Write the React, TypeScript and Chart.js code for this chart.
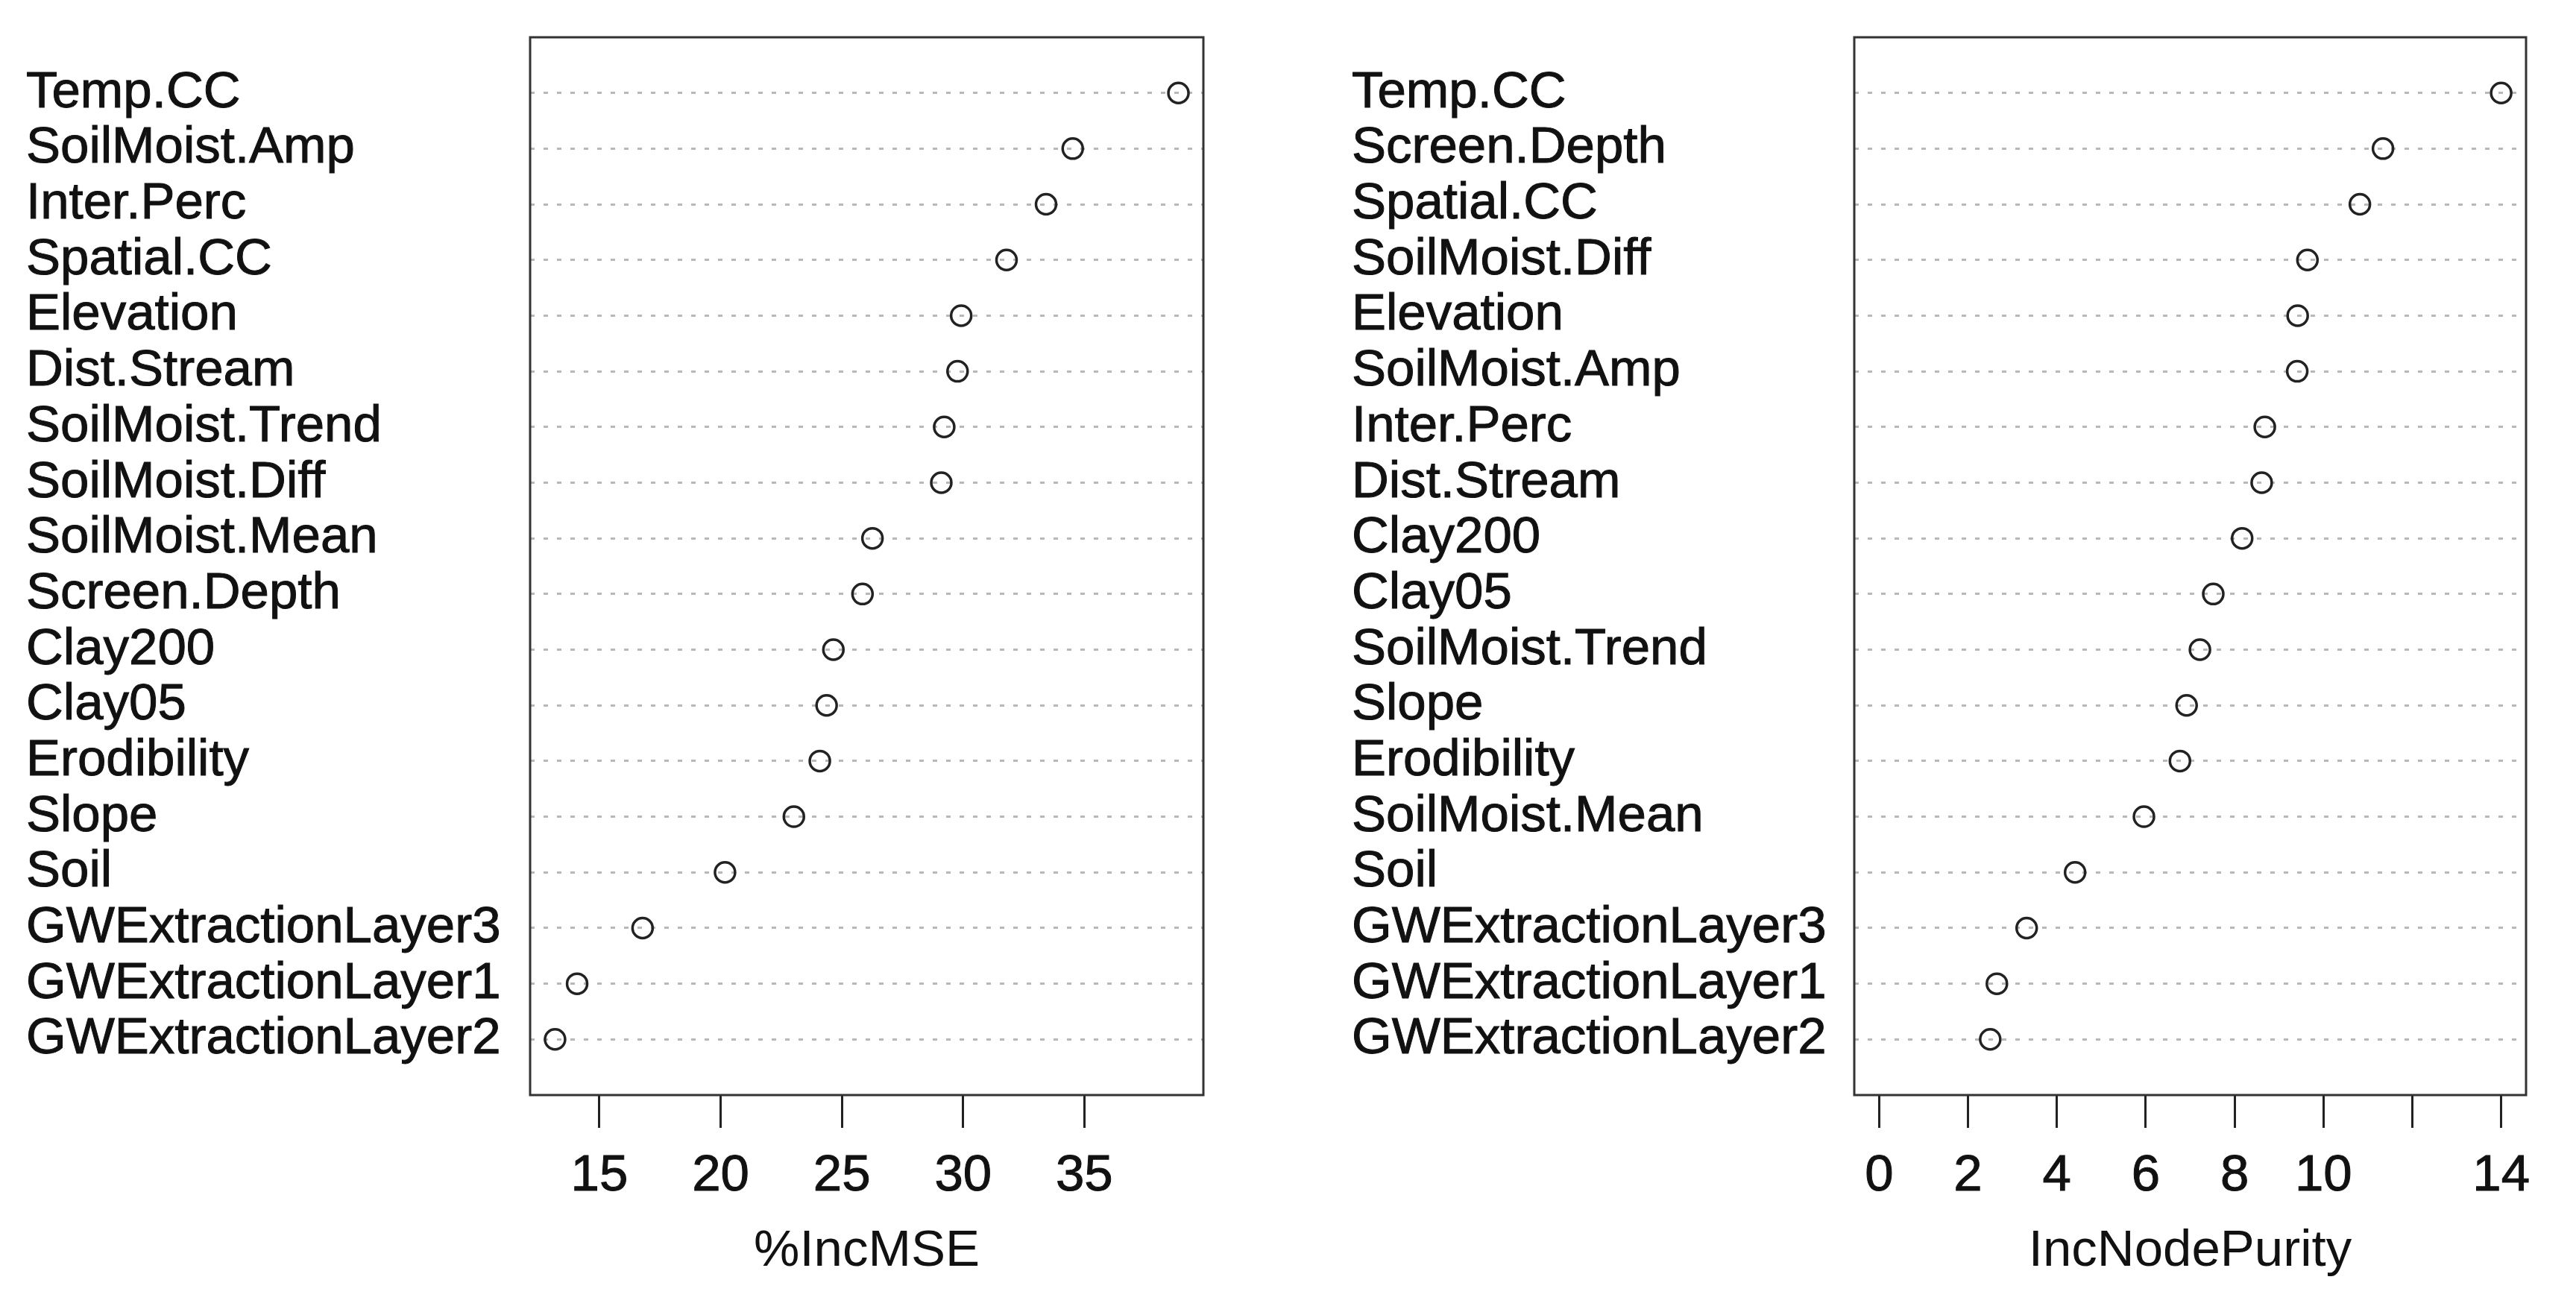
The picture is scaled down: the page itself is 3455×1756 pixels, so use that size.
import React, { useEffect, useRef } from "react";
import { Chart, registerables } from "chart.js";

Chart.register(...registerables);

// ---- Data ----
const mseLabels = [
  "Temp.CC", "SoilMoist.Amp", "Inter.Perc", "Spatial.CC", "Elevation", "Dist.Stream",
  "SoilMoist.Trend", "SoilMoist.Diff", "SoilMoist.Mean", "Screen.Depth", "Clay200", "Clay05",
  "Erodibility", "Slope", "Soil", "GWExtractionLayer3", "GWExtractionLayer1", "GWExtractionLayer2",
];
const mseValues = [
  38.88, 34.52, 33.42, 31.79, 29.92, 29.77, 29.22, 29.1, 26.26, 25.85, 24.65, 24.37,
  24.09, 23.02, 20.18, 16.78, 14.08, 13.17,
];
const mseTicks = [15, 20, 25, 30, 35];
const mseTickLabels = ["15", "20", "25", "30", "35"];
const mseTitle = "%IncMSE";

const purityLabels = [
  "Temp.CC", "Screen.Depth", "Spatial.CC", "SoilMoist.Diff", "Elevation", "SoilMoist.Amp",
  "Inter.Perc", "Dist.Stream", "Clay200", "Clay05", "SoilMoist.Trend", "Slope",
  "Erodibility", "SoilMoist.Mean", "Soil", "GWExtractionLayer3", "GWExtractionLayer1", "GWExtractionLayer2",
];
const purityValues = [
  14.0, 11.34, 10.82, 9.64, 9.42, 9.41, 8.68, 8.61, 8.17, 7.52, 7.22, 6.92,
  6.77, 5.96, 4.41, 3.32, 2.65, 2.5,
];
const purityTicks = [0, 2, 4, 6, 8, 10, 12, 14];
const purityTickLabels = ["0", "2", "4", "6", "8", "10", "", "14"];
const purityTitle = "IncNodePurity";

const FONT = "'Liberation Sans', Arial, sans-serif";
const FS = 69;
const H = 1756;

type PanelProps = {
  labels: string[];
  values: number[];
  ticks: number[];
  tickLabels: string[];
  title: string;
  xMin: number;
  xMax: number;
  left: number;
  width: number;
  padLeft: number;
  padRight: number;
  yAxisWidth: number;
};

function Panel(p: PanelProps) {
  const ref = useRef<HTMLCanvasElement>(null);
  useEffect(() => {
    if (!ref.current) return;
    const n = p.labels.length;
    const boxPlugin = {
      id: "rbox",
      afterDraw(chart: any) {
        const { ctx, chartArea: a } = chart;
        ctx.save();
        ctx.strokeStyle = "#333";
        ctx.lineWidth = 3;
        ctx.setLineDash([]);
        ctx.strokeRect(a.left, a.top, a.right - a.left, a.bottom - a.top);
        ctx.restore();
      },
    };
    const chart = new Chart(ref.current, {
      type: "scatter",
      data: {
        datasets: [
          {
            data: p.values.map((v, i) => ({ x: v, y: i + 1 })),
            pointStyle: "circle",
            pointRadius: 13.5,
            pointHoverRadius: 13.5,
            pointBorderWidth: 3.5,
            pointBorderColor: "#222",
            pointBackgroundColor: "rgba(0,0,0,0)",
          },
        ],
      },
      options: {
        animation: false,
        responsive: false,
        devicePixelRatio: 1,
        events: [],
        layout: { padding: { left: p.padLeft, right: p.padRight, top: 50, bottom: 0 } },
        plugins: { legend: { display: false }, tooltip: { enabled: false } },
        scales: {
          x: {
            type: "linear",
            position: "bottom",
            bounds: "data",
            min: p.xMin,
            max: p.xMax,
            afterBuildTicks: (s: any) => {
              s.ticks = p.ticks.map((v) => ({ value: v }));
            },
            afterFit: (s: any) => {
              s.height = H - 1469;
            },
            grid: {
              display: true,
              drawOnChartArea: false,
              drawTicks: true,
              tickLength: 44,
              tickColor: "#222",
              tickWidth: 3,
            },
            border: { display: false },
            ticks: {
              autoSkip: false,
              maxRotation: 0,
              minRotation: 0,
              padding: 24,
              color: "#111",
              textStrokeColor: "#111",
              textStrokeWidth: 1,
              font: { family: FONT, size: FS },
              callback: (v: any) => {
                const i = p.ticks.indexOf(Number(v));
                return i >= 0 ? p.tickLabels[i] : "";
              },
            },
            title: {
              display: true,
              text: p.title,
              color: "#111",
              font: { family: FONT, size: FS },
              padding: { top: 0, bottom: 36 },
            },
          },
          y: {
            type: "linear",
            position: "left",
            reverse: true,
            bounds: "data",
            min: 0,
            max: n + 1,
            afterBuildTicks: (s: any) => {
              s.ticks = p.labels.map((_, i) => ({ value: i + 1 }));
            },
            afterFit: (s: any) => {
              s.width = p.yAxisWidth;
            },
            grid: {
              display: true,
              drawOnChartArea: true,
              drawTicks: false,
              color: "#b8b8b8",
              lineWidth: 3,
            },
            border: { display: false, dash: [6, 12] },
            ticks: {
              autoSkip: false,
              crossAlign: "far",
              padding: 0,
              color: "#111",
              textStrokeColor: "#111",
              textStrokeWidth: 1,
              font: { family: FONT, size: FS },
              callback: (v: any) => p.labels[Math.round(Number(v)) - 1] ?? "",
            },
          },
        },
      } as any,
      plugins: [boxPlugin],
    });
    return () => chart.destroy();
  }, []);
  return (
    <canvas
      ref={ref}
      width={p.width}
      height={H}
      style={{ position: "absolute", left: p.left, top: 0, width: p.width, height: H, display: "block" }}
    />
  );
}

export default function App() {
  const mMin = Math.min(...mseValues);
  const mMax = Math.max(...mseValues);
  const mR = mMax - mMin;
  const pMax = Math.max(...purityValues);
  return (
    <div
      style={{
        position: "fixed",
        left: 0,
        top: 0,
        width: 3455,
        height: H,
        background: "#fff",
        overflow: "hidden",
      }}
    >
      <Panel
        labels={mseLabels}
        values={mseValues}
        ticks={mseTicks}
        tickLabels={mseTickLabels}
        title={mseTitle}
        xMin={mMin - 0.04 * mR}
        xMax={mMax + 0.04 * mR}
        left={0}
        width={1727}
        padLeft={35}
        padRight={113}
        yAxisWidth={676}
      />
      <Panel
        labels={purityLabels}
        values={purityValues}
        ticks={purityTicks}
        tickLabels={purityTickLabels}
        title={purityTitle}
        xMin={-0.04 * pMax}
        xMax={1.04 * pMax}
        left={1727}
        width={1728}
        padLeft={86}
        padRight={67}
        yAxisWidth={674}
      />
    </div>
  );
}
